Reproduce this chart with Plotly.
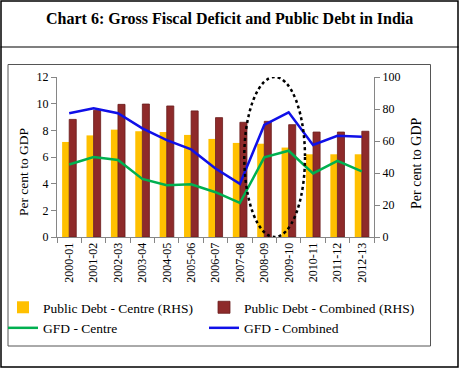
import plotly.graph_objects as go

categories = ["2000-01", "2001-02", "2002-03", "2003-04", "2004-05", "2005-06", "2006-07",
              "2007-08", "2008-09", "2009-10", "2010-11", "2011-12", "2012-13"]
debt_centre = [59.4, 63.5, 67.1, 66.1, 65.6, 63.8, 61.3, 58.8, 58.3, 55.9, 51.7, 51.7, 51.7]
debt_combined = [73.5, 79.2, 82.9, 83.1, 81.9, 78.8, 74.6, 71.7, 72.3, 70.2, 65.6, 65.6, 66.1]
gfd_centre = [5.44, 5.99, 5.77, 4.36, 3.89, 3.96, 3.36, 2.55, 5.97, 6.47, 4.77, 5.71, 4.92]
gfd_combined = [9.28, 9.65, 9.28, 8.15, 7.27, 6.57, 5.14, 3.98, 8.40, 9.35, 6.90, 7.59, 7.52]

W, H = 459, 368
L, R, T, B = 57, 374, 77, 237  # plot area in pixels

def px(x):
    return (x - L) / (R - L)

def py(y):
    return (B - y) / (B - T)

FONT = "Liberation Serif"

fig = go.Figure()
fig.add_trace(go.Bar(x=categories, y=debt_centre, name="Public Debt - Centre (RHS)",
                     marker=dict(color="#FFC000", line=dict(width=0)), yaxis="y", legend="legend"))
fig.add_trace(go.Bar(x=categories, y=debt_combined, name="Public Debt - Combined (RHS)",
                     marker=dict(color="#8E2A2A", line=dict(color="#6A1C1C", width=0.8)),
                     yaxis="y", legend="legend2"))
fig.add_trace(go.Scatter(x=categories, y=gfd_centre, name="GFD - Centre", mode="lines",
                         line=dict(color="#00B050", width=2.5), yaxis="y2", legend="legend"))
fig.add_trace(go.Scatter(x=categories, y=gfd_combined, name="GFD - Combined", mode="lines",
                         line=dict(color="#1010E8", width=2.5), yaxis="y2", legend="legend2"))

axis_col = "#868686"
i0 = categories.index("2008-09") - 0.82
i1 = categories.index("2009-10") + 0.67

fig.update_layout(
    width=W, height=H,
    margin=dict(l=L, r=W - R, t=T, b=H - B, autoexpand=False),
    paper_bgcolor="white", plot_bgcolor="white",
    font=dict(family=FONT, size=12, color="black"),
    barmode="group", bargap=0.42, bargroupgap=0,
    xaxis=dict(type="category", range=[-0.5, len(categories) - 0.5], showline=True, linecolor=axis_col,
               ticks="outside", tickson="boundaries", ticklen=5, tickcolor=axis_col, tickangle=-90,
               showgrid=False, tickfont=dict(family=FONT, size=12)),
    yaxis=dict(side="right", range=[0, 100], dtick=20, showline=True, linecolor=axis_col,
               ticks="outside", ticklen=5, tickcolor=axis_col, showgrid=False, zeroline=False,
               tickfont=dict(family=FONT, size=12)),
    yaxis2=dict(side="left", overlaying="y", range=[0, 12], dtick=2, showline=True,
                linecolor=axis_col, ticks="outside", ticklen=5, tickcolor=axis_col,
                showgrid=False, zeroline=False, tickfont=dict(family=FONT, size=12)),
    legend=dict(x=px(3), y=py(292), xanchor="left", yanchor="top", orientation="v",
                font=dict(family=FONT, size=13.5), bgcolor="rgba(0,0,0,0)", tracegroupgap=0),
    legend2=dict(x=px(204), y=py(292), xanchor="left", yanchor="top", orientation="v",
                 font=dict(family=FONT, size=13.5), bgcolor="rgba(0,0,0,0)", tracegroupgap=0),
    shapes=[
        dict(type="rect", xref="paper", yref="paper", x0=px(1), x1=px(458), y0=py(1), y1=py(367),
             line=dict(color="black", width=1.5)),
        dict(type="line", xref="paper", yref="paper", x0=px(0.5), x1=px(458.5), y0=py(47), y1=py(47),
             line=dict(color="black", width=1.2)),
        dict(type="rect", xref="paper", yref="paper", x0=px(8), x1=px(430.5), y0=py(64.5), y1=py(346),
             line=dict(color="#555555", width=1), layer="below"),
        dict(type="circle", xref="x", yref="y", x0=i0, x1=i1, y0=0, y1=100,
             line=dict(color="black", width=2.5, dash="dot")),
    ],
    annotations=[
        dict(text="<b>Chart 6: Gross Fiscal Deficit and Public Debt in India</b>", xref="paper", yref="paper",
             x=px(229), y=py(19), xanchor="center", yanchor="middle", showarrow=False,
             font=dict(family=FONT, size=16, color="black")),
        dict(text="Per cent to GDP", xref="paper", yref="paper", x=px(23), y=py(172),
             xanchor="center", yanchor="middle", textangle=-90, showarrow=False,
             font=dict(family=FONT, size=13.5, color="black")),
        dict(text="Per cent to GDP", xref="paper", yref="paper", x=px(416), y=py(163),
             xanchor="center", yanchor="middle", textangle=-90, showarrow=False,
             font=dict(family=FONT, size=14, color="black")),
    ],
)

fig.write_html("out.html", config={"displayModeBar": False},
               post_script="document.body.style.margin='0';document.body.style.overflow='hidden';")
